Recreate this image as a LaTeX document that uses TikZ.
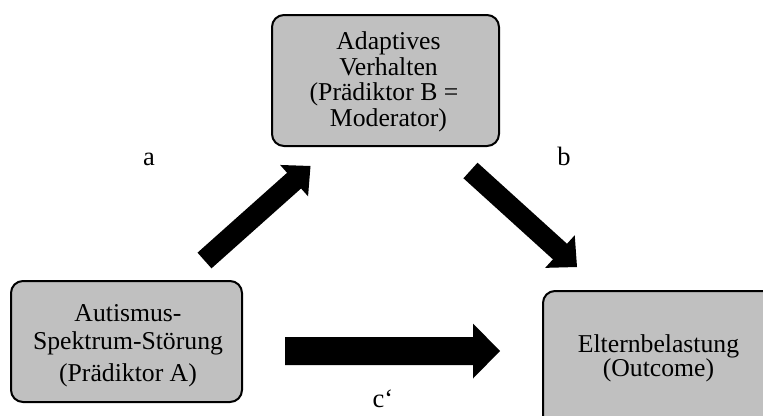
\documentclass[tikz,border=0pt]{standalone}
\usepackage{fontspec}
\setmainfont{Liberation Serif}
\usetikzlibrary{calc}
\definecolor{boxgray}{RGB}{192,192,192}
\tikzset{
  boxnode/.style={draw=black, line width=2pt, fill=boxgray, rounded corners=12pt, inner sep=0pt},
  txt/.style={align=center, font=\fontsize{25.7}{25.5}\selectfont, inner sep=0pt},
  lab/.style={font=\fontsize{26.5}{25.5}\selectfont, inner sep=0pt, anchor=base},
  blockfill/.style={fill=black},
}
% tail, tip, shaft half width, head half width, head length
\newcommand{\blockarr}[5]{%
  \coordinate (#1-#2-h) at ($(#2)!#5!(#1)$);
  \fill[blockfill] ($(#1)!#3!90:(#2)$) -- ($(#1-#2-h)!#3!-90:(#1)$) -- ($(#1-#2-h)!#4!-90:(#1)$)
    -- (#2) -- ($(#1-#2-h)!#4!90:(#1)$) -- ($(#1-#2-h)!#3!90:(#1)$) -- ($(#1)!#3!-90:(#2)$) -- cycle;
}
\begin{document}
\begin{tikzpicture}[x=1pt,y=-1pt]
\useasboundingbox (0,0) rectangle (763,415);
\clip (0,0) rectangle (763,415);
% boxes
\node[boxnode, minimum width=227pt, minimum height=131pt] (adapt) at (385.5,80.5) {};
\node[boxnode, minimum width=231pt, minimum height=121pt] (asd) at (126.5,341.5) {};
\node[boxnode, minimum width=231pt, minimum height=139pt] (eltern) at (658.5,360.5) {};
% texts
\node[txt] (adapttxt) at (388.5,81.5) {Adaptives\\[0.5pt]Verhalten\\(Prädiktor B =\kern9pt\\Moderator)};
\node[txt] (asdtxt) at (128,346) {Autismus-\\[2.5pt]Spektrum-Störung\\[6.5pt](Prädiktor A)};
\node[txt] (elterntxt) at (658.5,358) {Elternbelastung\\[-1.5pt](Outcome)};
% arrows
\coordinate (atail) at (204.5,260.5);
\coordinate (atip) at (310.5,166);
\coordinate (btail) at (470.5,170.5);
\coordinate (btip) at (577,267);
\coordinate (ctail) at (285,351);
\coordinate (ctip) at (500,351);
\blockarr{atail}{atip}{10.5pt}{21pt}{22pt}
\blockarr{btail}{btip}{10.5pt}{22pt}{23pt}
\blockarr{ctail}{ctip}{14pt}{27.5pt}{27pt}
% labels
\node[lab] (la) at (149,165) {a};
\node[lab] (lb) at (564,165) {b};
\node[lab] (lc) at (383,407) {c‘};
\end{tikzpicture}
\end{document}
